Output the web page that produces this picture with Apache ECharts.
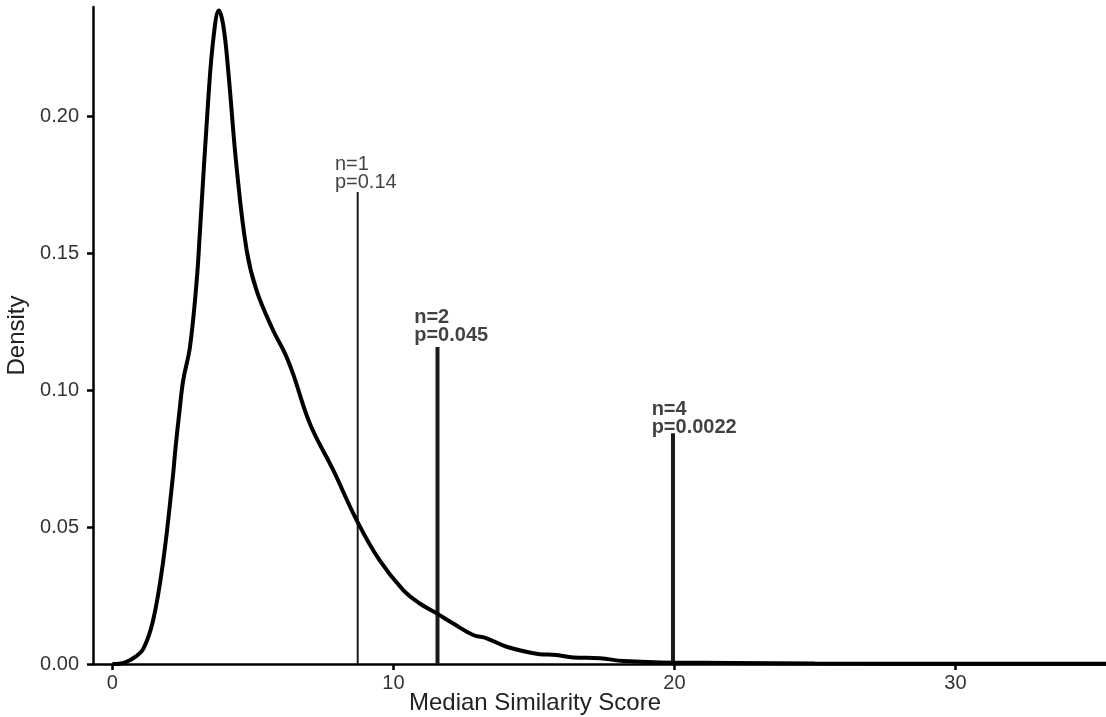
<!DOCTYPE html>
<html>
<head>
<meta charset="utf-8">
<title>Median Similarity Score density</title>
<script src="https://cdn.jsdelivr.net/npm/echarts@6/dist/echarts.min.js"></script>
<style>
  html, body { margin: 0; padding: 0; background: #fff; }
  #main { width: 1106px; height: 717px; }
</style>
</head>
<body>
<div id="main"></div>
<script>
// density curve
var scoreX = [0, 0.3, 0.5, 0.8, 1.1, 1.45, 1.8, 2.14, 2.25, 2.38, 2.52, 2.76, 3.0, 3.11, 3.41, 3.6, 3.79, 3.95, 4.12,
  4.42, 4.78, 5.13, 5.72, 6.14, 6.43, 7.03, 7.86, 8.69, 9.5, 10.35, 10.94, 11.54, 12.13,
  12.84, 13.32, 14.03, 15.2, 15.8, 16.4, 17.35, 18.2, 20, 22, 25, 30, 35.4];
var densityY = [0, 0.0002, 0.0008, 0.0025, 0.0055, 0.016, 0.037, 0.0672, 0.0793, 0.0916, 0.1036, 0.1158, 0.140, 0.157, 0.206, 0.229, 0.2387, 0.233, 0.217,
  0.1815, 0.151, 0.1365, 0.1219, 0.1135, 0.106, 0.0878, 0.0708, 0.0526, 0.038, 0.027, 0.0221, 0.0185, 0.0148,
  0.0106, 0.0094, 0.0063, 0.0036, 0.0033, 0.0024, 0.0021, 0.0011, 0.0005, 0.0004, 0.0002, 0.0001, 0.0001];

// observed values with their annotations
var markerX = [8.73, 11.57, 19.95];
var markerTop = [0.1724, 0.1158, 0.0843];
var markerN = ['n=1', 'n=2', 'n=4'];
var markerP = ['p=0.14', 'p=0.045', 'p=0.0022'];
var labelX = [7.92, 10.74, 19.19];
var labelY = [0.1726, 0.1169, 0.0832];
var markerWidth = [2, 4, 4];
var markerBold = [false, true, true];

var xTicks = [0, 10, 20, 30];
var yTicks = [0, 0.05, 0.1, 0.15, 0.2];

var font = '"Liberation Sans", Arial, sans-serif';

var chart = echarts.init(document.getElementById('main'));

var series = [];

markerX.forEach(function (x, i) {
  series.push({
    type: 'line',
    data: [[x, 0], [x, markerTop[i]]],
    showSymbol: false,
    silent: true,
    lineStyle: { color: '#1a1a1a', width: markerWidth[i], cap: 'butt' },
    z: 2
  });
});

series.push({
  type: 'line',
  data: scoreX.map(function (x, i) { return [x, densityY[i]]; }),
  smooth: 0.4,
  showSymbol: false,
  lineStyle: { color: '#000', width: 4 },
  z: 3
});

series.push({
  type: 'scatter',
  symbolSize: 0,
  silent: true,
  data: labelX.map(function (x, i) { return [x, labelY[i]]; }),
  label: {
    show: true,
    position: 'inside',
    align: 'left',
    verticalAlign: 'bottom',
    formatter: function (p) {
      var i = p.dataIndex;
      var tag = markerBold[i] ? 'b' : 'r';
      return '{' + tag + '|' + markerN[i] + '}\n{' + tag + '|' + markerP[i] + '}';
    },
    rich: {
      r: { fontFamily: font, fontSize: 20, lineHeight: 18, color: '#111' },
      b: { fontFamily: font, fontSize: 20, lineHeight: 18, fontWeight: 'bold', color: '#111' }
    }
  },
  z: 4
});

chart.setOption({
  animation: false,
  grid: { left: 93, right: 0, top: 7, bottom: 53, outerBoundsMode: 'none' },
  xAxis: {
    type: 'value',
    min: -0.69,
    max: 35.36,
    splitLine: { show: false },
    axisLine: { onZero: false, lineStyle: { color: '#000', width: 2.5 } },
    axisTick: { show: true, length: 6, customValues: xTicks, lineStyle: { color: '#000', width: 2.5 } },
    axisLabel: { customValues: xTicks, margin: 9, fontFamily: font, fontSize: 20, color: '#333' }
  },
  yAxis: {
    type: 'value',
    min: 0,
    max: 0.24,
    name: 'Density',
    nameLocation: 'middle',
    nameRotate: 90,
    nameGap: 56,
    nameTextStyle: { fontFamily: font, fontSize: 24, color: '#222' },
    splitLine: { show: false },
    axisLine: { show: true, onZero: false, lineStyle: { color: '#000', width: 2.5 } },
    axisTick: { show: true, length: 6, customValues: yTicks, lineStyle: { color: '#000', width: 2.5 } },
    axisLabel: {
      customValues: yTicks,
      margin: 14,
      fontFamily: font,
      fontSize: 20,
      color: '#333',
      formatter: function (v) { return v.toFixed(2); }
    }
  },
  graphic: [{
    type: 'text',
    x: 535,
    y: 703,
    style: {
      text: 'Median Similarity Score',
      font: '24px ' + font,
      fill: '#222',
      textAlign: 'center',
      textVerticalAlign: 'middle'
    }
  }],
  series: series
});
</script>
</body>
</html>
